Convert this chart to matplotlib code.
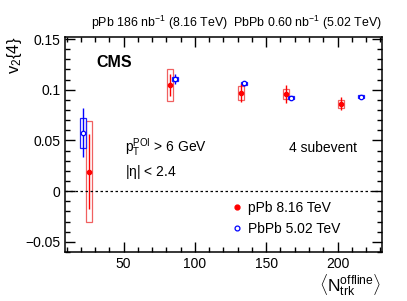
import numpy as np
import matplotlib
matplotlib.use("Agg")
import matplotlib.pyplot as plt
from matplotlib.patches import Rectangle
from matplotlib.lines import Line2D
from matplotlib.ticker import MultipleLocator

plt.rcParams['font.family'] = ['Liberation Sans', 'DejaVu Sans']
plt.rcParams['mathtext.fontset'] = 'custom'
plt.rcParams['mathtext.rm'] = 'Liberation Sans'
plt.rcParams['mathtext.it'] = 'Liberation Sans'

# pPb 8.16 TeV
ppb_n = [25.7, 82.7, 132.5, 164.0, 202.4]
ppb_v = [0.0192, 0.105, 0.097, 0.096, 0.0863]
ppb_stat = [0.037, 0.0108, 0.009, 0.0087, 0.0063]
ppb_sys_lo = [-0.0307, 0.089, 0.090, 0.0904, 0.0817]
ppb_sys_hi = [0.0693, 0.1205, 0.104, 0.101, 0.0896]

# PbPb 5.02 TeV
pbpb_n = [21.5, 86.3, 134.3, 167.5, 216.4]
pbpb_v = [0.0578, 0.1106, 0.1063, 0.0922, 0.0931]
pbpb_stat = [0.0237, 0.005, 0.0023, 0.001, 0.0008]
pbpb_sys_lo = [0.0426, 0.1085, 0.105, 0.0905, 0.0918]
pbpb_sys_hi = [0.072, 0.113, 0.108, 0.094, 0.0945]

box_w = 4.2

fig = plt.figure(figsize=(4.07, 3.01), dpi=100)
ax = fig.add_axes([0.16, 0.163, 0.778, 0.714])

# systematic boxes
for n, lo, hi in zip(ppb_n, ppb_sys_lo, ppb_sys_hi):
    ax.add_patch(Rectangle((n - box_w / 2, lo), box_w, hi - lo, fill=False,
                           edgecolor='#f06060', lw=0.9))
for n, lo, hi in zip(pbpb_n, pbpb_sys_lo, pbpb_sys_hi):
    ax.add_patch(Rectangle((n - box_w / 2, lo), box_w, hi - lo, fill=False,
                           edgecolor='#2020ff', lw=0.9))

ax.axhline(0, color='black', ls=(0, (2, 2)), lw=0.9)

ax.errorbar(ppb_n, ppb_v, yerr=ppb_stat, fmt='o', color='red', ms=3.0,
            elinewidth=1.0, capsize=0)
ax.errorbar(pbpb_n, pbpb_v, yerr=pbpb_stat, fmt='o', color='blue', mfc='white',
            ms=3.2, mew=0.9, elinewidth=1.0, capsize=0)

ax.set_xlim(9, 231)
ax.set_ylim(-0.06, 0.152)
ax.xaxis.set_major_locator(MultipleLocator(50))
ax.xaxis.set_minor_locator(MultipleLocator(10))
ax.yaxis.set_major_locator(MultipleLocator(0.05))
ax.yaxis.set_minor_locator(MultipleLocator(0.01))
ax.set_yticks([-0.05, 0, 0.05, 0.1, 0.15])
ax.set_yticklabels(['\u22120.05', '0', '0.05', '0.1', '0.15'])
ax.tick_params(which='both', direction='in', top=True, right=True, labelsize=10)
ax.tick_params(which='major', length=7, width=1)
ax.tick_params(which='minor', length=3.5, width=1)
for s in ax.spines.values():
    s.set_linewidth(1.1)

handles = [Line2D([], [], ls='none', marker='o', color='red', ms=3.5),
           Line2D([], [], ls='none', marker='o', color='blue', mfc='white', ms=3.5, mew=0.9)]
ax.legend(handles, ['pPb 8.16 TeV', 'PbPb 5.02 TeV'], loc='upper left',
          bbox_to_anchor=(0.49, 0.265), frameon=False, fontsize=10,
          handletextpad=0.0, handlelength=1.6, labelspacing=0.55, borderaxespad=0)

ax.text(0.1, 0.88, 'CMS', transform=ax.transAxes, fontsize=11.5, fontweight='bold',
        va='center')
ax.text(0.19, 0.484, r'$\mathregular{p_T^{POI}}$ > 6 GeV', transform=ax.transAxes,
        fontsize=10, va='center')
ax.text(0.19, 0.372, r'|$\eta$| < 2.4', transform=ax.transAxes, fontsize=10, va='center')
ax.text(0.706, 0.484, '4 subevent', transform=ax.transAxes, fontsize=10, va='center')
ax.text(1.0, 1.025, r'pPb 186 nb$^{\mathregular{-1}}$ (8.16 TeV)  PbPb 0.60 nb$^{\mathregular{-1}}$ (5.02 TeV)',
        transform=ax.transAxes, ha='right', va='bottom', fontsize=8.9)

fig.text(0.035, 0.877, r'v$_{\mathregular{2}}${4}', rotation=90, ha='center', va='top',
         fontsize=12)
fig.text(0.938, 0.01, r'$\langle\mathregular{N_{trk}^{offline}}\rangle$', ha='right',
         va='bottom', fontsize=12.5)

fig.savefig('out.png', dpi=100)
